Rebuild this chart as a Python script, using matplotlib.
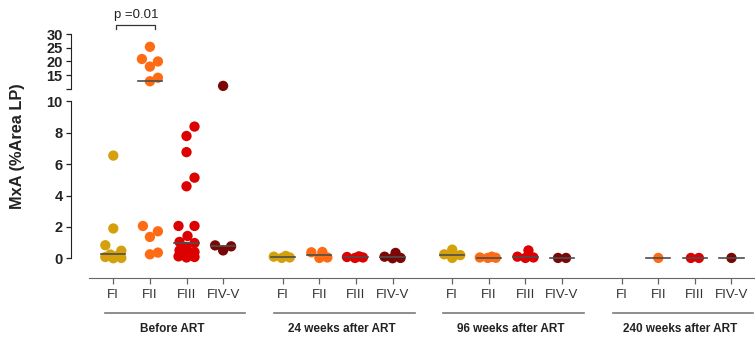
import numpy as np
import matplotlib
matplotlib.use('Agg')
import matplotlib.pyplot as plt
from matplotlib.transforms import blended_transform_factory

plt.rcParams['font.family'] = ['Liberation Sans', 'DejaVu Sans']

groups = ['Before ART', '24 weeks after ART', '96 weeks after ART', '240 weeks after ART']
fractions = ['FI', 'FII', 'FIII', 'FIV-V']
colors = ['#D4A10C', '#FF6B14', '#DC0000', '#7A0606']

# MxA (%Area LP) per fraction, one list per fraction
before_art = [
    [6.55, 1.9, 0.83, 0.48, 0.24, 0.15, 0.08, 0.02, 0.0],
    [25.4, 20.9, 20.0, 18.1, 14.0, 12.7, 2.06, 1.72, 1.36, 0.36, 0.25],
    [8.4, 7.8, 6.77, 5.14, 4.59, 2.06, 2.06, 1.42, 1.04, 0.97,
     0.72, 0.5, 0.4, 0.3, 0.25, 0.2, 0.12, 0.08, 0.05],
    [11.0, 0.82, 0.76, 0.5],
]
week24 = [
    [0.15, 0.1, 0.05, 0.02],
    [0.4, 0.38, 0.05, 0.02],
    [0.12, 0.08, 0.05, 0.02],
    [0.34, 0.1, 0.02, 0.0],
]
week96 = [
    [0.55, 0.25, 0.2, 0.02],
    [0.1, 0.05, 0.03, 0.02],
    [0.5, 0.1, 0.05, 0.02],
    [0.02, 0.02],
]
week240 = [
    [],
    [0.02],
    [0.02, 0.02],
    [0.02],
]
all_data = [before_art, week24, week96, week240]

W, H = 755, 337
px_x = 36.6      # pixels per category unit
px_lo = 15.68    # pixels per unit, 0-10 segment
px_hi = 2.713    # pixels per unit, 10-30 segment
group_step = 4.63
xlim = (-1.156, -1.156 + (W - 71) / px_x)

fig = plt.figure(figsize=(W / 100, H / 100), dpi=100)
ax_lo = fig.add_axes([71 / W, 59 / H, 1 - 71 / W, 176.5 / H])
ax_hi = fig.add_axes([71 / W, (H - 88.6) / H, 1 - 71 / W, (88.6 - 34.3) / H])


def swarm(values, ypx, gap=13.0, maxw=8.0):
    # beeswarm limited to +-maxw pixels; crowded points overlap
    placed = []
    steps = [0.0] + [s * j for j in np.arange(1, maxw + 0.5, 1.0) for s in (1, -1)]
    for v in values:
        y = v * ypx
        best, best_d = 0.0, -1.0
        for c in steps:
            d = min([np.hypot(c - px, y - py) for px, py in placed] or [1e9])
            if d >= gap:
                best = c
                break
            if d > best_d + 0.5:
                best, best_d = c, d
        placed.append((best, y))
    offs = np.array([p[0] for p in placed])
    if len(offs) > 1 and np.ptp(values) * ypx < 3:
        offs = offs - offs.mean()
    return offs / px_x


positions = []
for g, gdata in enumerate(all_data):
    for i, vals in enumerate(gdata):
        x0 = g * group_step + i
        positions.append(x0)
        vals = np.sort(np.array(vals, dtype=float))
        if len(vals) == 0:
            continue
        lo = vals[vals <= 10]
        hi = vals[vals > 10]
        if len(lo):
            ax_lo.scatter(x0 + swarm(lo, px_lo), lo, s=55, color=colors[i],
                          edgecolors='none', zorder=3, clip_on=False)
        if len(hi):
            ax_hi.scatter(x0 + swarm(hi, px_hi), hi, s=55, color=colors[i],
                          edgecolors='none', zorder=3, clip_on=False)
        med = np.median(vals)
        ax = ax_hi if med > 10 else ax_lo
        ax.plot([x0 - 0.33, x0 + 0.33], [med, med], color='#4d4d4d', lw=1.2,
                zorder=4, clip_on=False)

for ax in (ax_lo, ax_hi):
    ax.set_xlim(*xlim)
    ax.patch.set_alpha(0)
    for s in ('top', 'right'):
        ax.spines[s].set_visible(False)
    ax.spines['left'].set_color('#222222')
    ax.tick_params(axis='y', direction='out', length=3.5, width=0.9, pad=2.5,
                   labelsize=10.5, colors='#222222')

ax_lo.set_ylim(-1.26, 10)
ax_lo.set_yticks([0, 2, 4, 6, 8, 10])
ax_lo.set_yticklabels(['0', '2', '4', '6', '8', '10'], fontweight='bold')
ax_lo.spines['left'].set_bounds(0, 10)
ax_lo.spines['bottom'].set_bounds(-0.66, xlim[1])
ax_lo.spines['bottom'].set_color('#666666')
ax_lo.set_xticks(positions)
ax_lo.set_xticklabels(fractions * len(groups))
ax_lo.tick_params(axis='x', direction='out', length=4, width=0.9, pad=4,
                  labelsize=9.5, colors='#666666', labelcolor='#333333')

ax_hi.set_ylim(10, 30)
ax_hi.set_yticks([10, 15, 20, 25, 30])
ax_hi.set_yticklabels(['', '15', '20', '25', '30'], fontweight='bold')
ax_hi.spines['left'].set_bounds(10, 30)
ax_hi.spines['bottom'].set_visible(False)
ax_hi.set_xticks([])

# group underlines and names
tr = blended_transform_factory(ax_lo.transData, fig.transFigure)
for g, name in enumerate(groups):
    x0 = g * group_step
    ax_lo.plot([x0 - 0.24, x0 + 3.6], [(H - 313) / H] * 2, color='#7a7a7a',
               lw=1.2, transform=tr, clip_on=False)
    ax_lo.text(x0 + 1.6, (H - 329) / H, name, transform=tr, ha='center',
               va='center', fontsize=8.5, fontweight='bold', color='#222222')

# significance bracket FI vs FII before ART
bx0, bx1 = positions[0] + 0.08, positions[1] + 0.15
ax_hi.plot([bx0, bx0, bx1, bx1], [32.0, 33.6, 33.6, 32.0], color='#333333',
           lw=0.9, clip_on=False)
ax_hi.text((bx0 + bx1) / 2, 37.1, 'p =0.01', ha='center', va='center',
           fontsize=9.5, color='#222222')

fig.text(18 / W, (H - 146) / H, 'MxA (%Area LP)', rotation=90, ha='center',
         va='center', fontsize=11.8, fontweight='bold', color='#222222')

fig.savefig('out.png', dpi=100)
